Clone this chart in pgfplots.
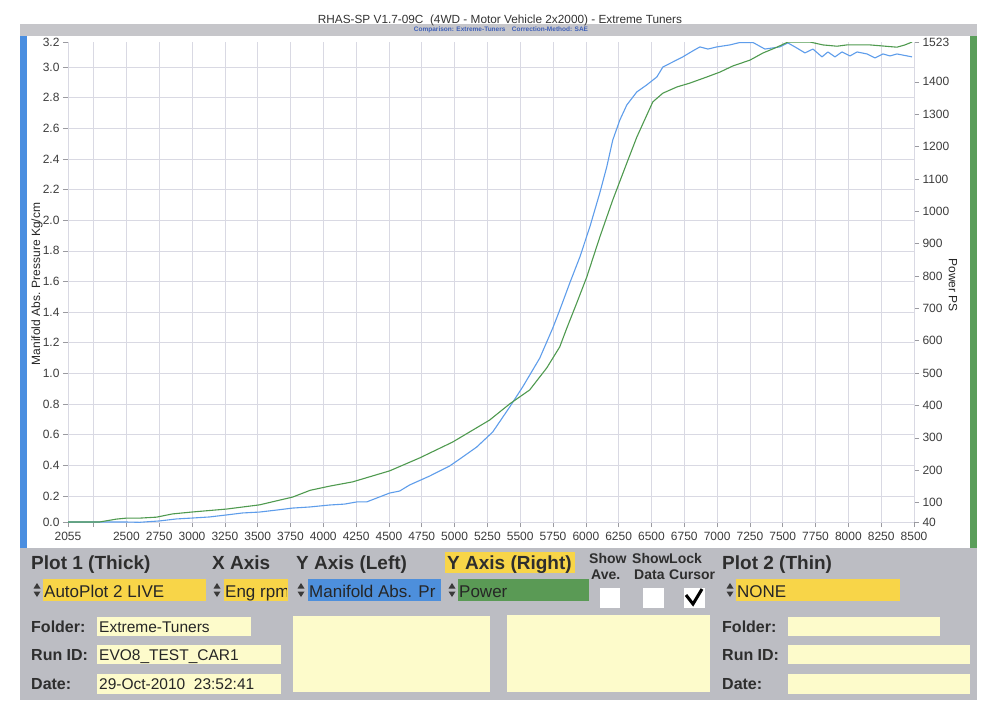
\documentclass[border=0pt]{standalone}
\usepackage{fontspec}
\setmainfont{Liberation Sans}
\usepackage{pgfplots}
\pgfplotsset{compat=1.18}

\definecolor{panelgray}{HTML}{BCBDC3}
\definecolor{stripgray}{HTML}{C6C6CA}
\definecolor{barblue}{HTML}{4A8EE0}
\definecolor{bargreen}{HTML}{5A9E5A}
\definecolor{yellowbox}{HTML}{F8D548}
\definecolor{paleyellow}{HTML}{FDFBCB}
\definecolor{boxblue}{HTML}{4D8FDC}
\definecolor{boxgreen}{HTML}{5A9A55}
\definecolor{gridc}{HTML}{D9D9E3}
\definecolor{tickc}{HTML}{9A9AA0}
\definecolor{labc}{HTML}{3C3C3C}
\definecolor{curveblue}{HTML}{5E9DEB}
\definecolor{curvegreen}{HTML}{4F9A4F}
\definecolor{subblue}{HTML}{3E5FB8}
\definecolor{spinc}{HTML}{3A3A3A}

\begin{document}
\begin{tikzpicture}
\begin{scope}[x=1pt,y=-1pt]
  \fill[white] (0,0) rectangle (1000,716);
  % frame of the dyno window
  \fill[stripgray] (20,24) rectangle (977,36);
  \fill[barblue] (20,36) rectangle (27,548);
  \fill[bargreen] (970,36) rectangle (977,548);
  \fill[panelgray] (20,548) rectangle (977,700);
  \node[anchor=base, font=\fontsize{11.8}{13}\selectfont, text=black!80] at (500,23)
    {RHAS-SP V1.7-09C\ \ (4WD - Motor Vehicle 2x2000) - Extreme Tuners};
  \node[anchor=base, font=\bfseries\fontsize{6.5}{7}\selectfont, text=subblue] at (501,31)
    {Comparison: Extreme-Tuners\quad Correction-Method: SAE};
  \node[rotate=90, font=\fontsize{12}{14}\selectfont, text=black!85] at (37,284) {Manifold Abs. Pressure Kg/cm};
  \node[rotate=-90, font=\fontsize{12}{14}\selectfont, text=black!85] at (953,285) {Power PS};

  % control panel headings
  \fill[yellowbox] (445,552) rectangle (575,573);
  \begin{scope}[every node/.style={anchor=base west, inner sep=0pt, font=\bfseries\fontsize{19}{21}\selectfont, text=black!82}]
    \node at (31,569) {Plot 1 (Thick)};
    \node at (212,569) {X Axis};
    \node at (296,569) {Y Axis (Left)};
    \node at (447,569) {Y Axis (Right)};
    \node at (722,569) {Plot 2 (Thin)};
  \end{scope}
  \begin{scope}[every node/.style={anchor=base west, inner sep=0pt, font=\bfseries\fontsize{14}{16}\selectfont, text=black!82}]
    \node at (589,563) {Show};
    \node at (591,579) {Ave.};
    \node at (632,563) {Show};
    \node at (634,579) {Data};
    \node at (669,563) {Lock};
    \node at (669,579) {Cursor};
  \end{scope}

  % selector boxes
  \def\spin#1{%
    \fill[spinc] (#1-3.5,588.5) -- (#1+3.5,588.5) -- (#1,583) -- cycle;
    \fill[spinc] (#1-3.5,591.5) -- (#1+3.5,591.5) -- (#1,597) -- cycle;}
  \spin{37}\spin{217}\spin{301}\spin{452}\spin{730}
  \fill[yellowbox] (43,579) rectangle (206,601);
  \fill[yellowbox] (224,579) rectangle (288,601);
  \fill[boxblue] (308,579) rectangle (441,601);
  \fill[boxgreen] (458,579) rectangle (589,601);
  \fill[yellowbox] (736,579) rectangle (900,601);
  \begin{scope}[every node/.style={anchor=base west, inner sep=0pt, font=\fontsize{17}{19}\selectfont, text=black!85}]
    \node at (44,597) {AutoPlot 2 LIVE};
    \begin{scope}
      \clip (224,579) rectangle (286,601);
      \node at (225,597) {Eng rpm};
    \end{scope}
    \begin{scope}
      \clip (308,579) rectangle (441,601);
      \node at (309,597) {Manifold Abs. Pr};
    \end{scope}
    \node at (459,597) {Power};
    \node at (737,597) {NONE};
  \end{scope}
  \fill[white] (600,588) rectangle (620,608);
  \fill[white] (643,588) rectangle (664,608);
  \fill[white] (684,588) rectangle (705,608);
  \draw[black, line width=3pt, line join=miter] (686,595) -- (693,604) -- (702,589);

  % run information
  \foreach \x/\w in {97/251, 788/940} \fill[paleyellow] (\x,617) rectangle (\w,636);
  \foreach \x/\w in {97/281, 788/970} {
    \fill[paleyellow] (\x,645) rectangle (\w,664);
    \fill[paleyellow] (\x,674) rectangle (\w,694);}
  \fill[paleyellow] (293,616) rectangle (490,692);
  \fill[paleyellow] (507,615) rectangle (710,692);
  \begin{scope}[every node/.style={anchor=base west, inner sep=0pt, font=\bfseries\fontsize{16}{18}\selectfont, text=black!82}]
    \node at (31,632) {Folder:};
    \node at (31,660) {Run ID:};
    \node at (31,689) {Date:};
    \node at (722,632) {Folder:};
    \node at (722,660) {Run ID:};
    \node at (722,689) {Date:};
  \end{scope}
  \begin{scope}[every node/.style={anchor=base west, inner sep=0pt, font=\fontsize{15.5}{17}\selectfont, text=black!85}]
    \node at (99,632) {Extreme-Tuners};
    \node at (99,660) {EVO8\_TEST\_CAR1};
    \node at (99,689) {29-Oct-2010\ \ 23:52:41};
  \end{scope}
\end{scope}

\pgfplotsset{dyno/.style={
  at={(68pt,-522pt)}, anchor=south west,
  width=846pt, height=480pt, scale only axis,
  xmin=2055, xmax=8500,
  axis line style={draw=gridc, line width=0.7pt},
  tick style={draw=tickc, line width=0.6pt},
  major tick length=5pt, tick align=outside,
  ticklabel style={font=\fontsize{12}{14}\selectfont, text=labc},
  /pgf/number format/assume math mode=true}}

% manifold pressure, left scale
\begin{axis}[dyno,
  ymin=0.03, ymax=3.163,
  axis x line*=bottom, axis y line*=left,
  xtick={2055,2250,2500,2750,3000,3250,3500,3750,4000,4250,4500,4750,5000,5250,5500,5750,6000,6250,6500,6750,7000,7250,7500,7750,8000,8250,8500},
  xticklabels={2055,,2500,2750,3000,3250,3500,3750,4000,4250,4500,4750,5000,5250,5500,5750,6000,6250,6500,6750,7000,7250,7500,7750,8000,8250,8500},
  xticklabel style={yshift=-2pt},
  ytick={0.2,0.4,0.6,0.8,1.0,1.2,1.4,1.6,1.8,2.0,2.2,2.4,2.6,2.8,3.0},
  yticklabels={0.2,0.4,0.6,0.8,1.0,1.2,1.4,1.6,1.8,2.0,2.2,2.4,2.6,2.8,3.0},
  extra y ticks={0.03,3.163}, extra y tick labels={0.0,3.2},
  extra y tick style={grid=none},
  grid=major, major grid style={draw=gridc, line width=0.6pt}]
\addplot[curveblue, line width=1.1pt, line join=round] coordinates {
  (2055,0.030) (2294,0.030) (2500,0.030) (2599,0.028) (2752,0.037) (2881,0.050)
  (3003,0.056) (3133,0.063) (3262,0.076) (3384,0.089) (3514,0.095) (3644,0.108)
  (3766,0.121) (3895,0.128) (4048,0.141) (4162,0.147) (4254,0.161) (4330,0.161)
  (4505,0.219) (4581,0.232) (4658,0.272) (4810,0.330) (4963,0.396) (5039,0.441)
  (5168,0.519) (5290,0.617) (5420,0.781) (5519,0.912) (5649,1.100) (5748,1.296)
  (5801,1.413) (5877,1.589) (5954,1.759) (6030,1.955) (6106,2.177) (6159,2.347)
  (6205,2.523) (6259,2.654) (6312,2.752) (6388,2.837) (6464,2.883) (6541,2.935)
  (6587,3.000) (6663,3.033) (6739,3.066) (6815,3.105) (6869,3.131) (6930,3.117)
  (6998,3.131) (7097,3.144) (7174,3.160) (7273,3.160) (7364,3.117) (7478,3.131)
  (7539,3.157) (7593,3.131) (7669,3.092) (7730,3.117) (7799,3.066) (7844,3.098)
  (7898,3.066) (7951,3.098) (8012,3.072) (8066,3.098) (8142,3.085) (8203,3.059)
  (8264,3.085) (8317,3.072) (8370,3.085) (8485,3.066)};
\end{axis}

% power, right scale
\begin{axis}[dyno,
  ymin=40, ymax=1523,
  axis x line=none, axis y line*=right,
  ytick={40,100,200,300,400,500,600,700,800,900,1000,1100,1200,1300,1400,1523},
  yticklabels={40,100,200,300,400,500,600,700,800,900,1000,1100,1200,1300,1400,1523}]
\addplot[curvegreen, line width=1.1pt, line join=round] coordinates {
  (2055,40) (2294,40) (2424,49) (2500,52) (2599,52) (2729,55) (2851,65) (3003,71)
  (3262,80) (3514,93) (3766,117) (3900,138) (4050,151) (4223,164) (4505,198)
  (4734,238) (4985,287) (5267,355) (5420,405) (5572,448) (5702,516) (5801,581)
  (5855,639) (5931,717) (6007,797) (6106,920) (6205,1035) (6312,1149) (6388,1229)
  (6464,1297) (6510,1338) (6587,1365) (6693,1384) (6792,1396) (6922,1415)
  (7021,1430) (7120,1449) (7250,1467) (7349,1489) (7456,1507) (7539,1523)
  (7707,1523) (7806,1514) (7913,1510) (7989,1514) (8165,1514) (8370,1507)
  (8431,1514) (8485,1523)};
\end{axis}

\pgfresetboundingbox
\path (0,0) rectangle (1000pt,-716pt);
\end{tikzpicture}
\end{document}
